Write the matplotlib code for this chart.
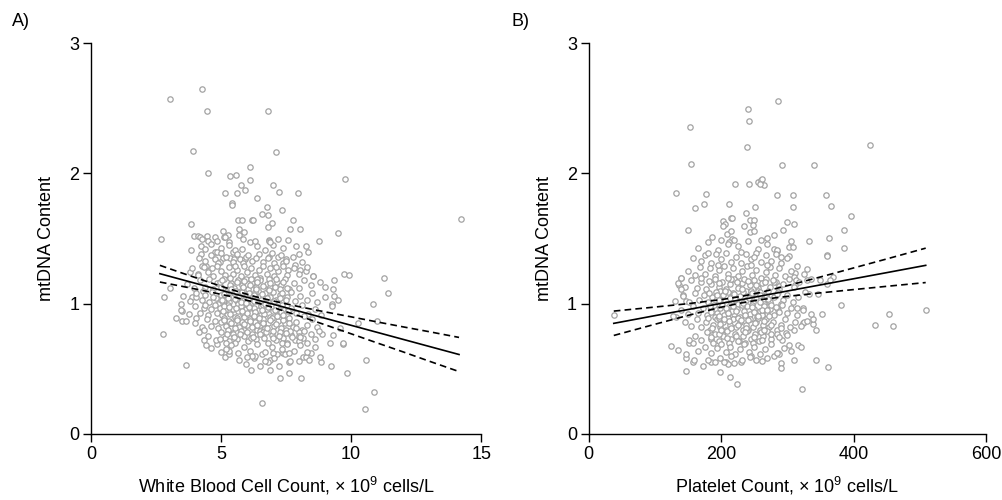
import matplotlib
matplotlib.use("Agg")
import matplotlib.pyplot as plt
import numpy as np

plt.rcParams['font.family'] = ['Liberation Sans', 'DejaVu Sans']
plt.rcParams['mathtext.fontset'] = 'custom'
plt.rcParams['mathtext.rm'] = 'Liberation Sans'

# ---- panel A: white blood cell count vs mtDNA content ----
# outlying points
wbc_outer = [
    (3.04, 2.57), (4.27, 2.65), (4.47, 2.48), (6.82, 2.48), (3.94, 2.17), (7.10, 2.16),
    (4.51, 2.00), (6.10, 2.05), (5.35, 1.98), (5.56, 1.99), (9.76, 1.96), (5.76, 1.91),
    (6.10, 1.95), (5.17, 1.85), (5.63, 1.85), (5.94, 1.87), (6.99, 1.91), (7.21, 1.86),
    (7.97, 1.85), (6.37, 1.81), (5.42, 1.77), (5.42, 1.76), (6.76, 1.74), (6.58, 1.69),
    (6.81, 1.68), (7.33, 1.72), (14.24, 1.65), (3.85, 1.61), (2.68, 1.50), (5.67, 1.64),
    (5.82, 1.64), (6.19, 1.64), (6.24, 1.64), (7.77, 1.64), (6.96, 1.62), (6.82, 1.59),
    (7.67, 1.57), (8.03, 1.57), (9.49, 1.54), (5.06, 1.56), (5.69, 1.57), (5.90, 1.55),
    (5.69, 1.53), (5.86, 1.50), (5.27, 1.53), (5.10, 1.51), (5.14, 1.51), (5.29, 1.47),
    (3.97, 1.52), (4.13, 1.52), (4.20, 1.51), (4.27, 1.50), (4.47, 1.52), (4.76, 1.51),
    (4.49, 1.48), (4.85, 1.48), (6.85, 1.49), (6.86, 1.48), (7.20, 1.50), (7.59, 1.49),
    (8.77, 1.48), (7.90, 1.44), (8.28, 1.44), (8.36, 1.40), (4.24, 1.44), (4.24, 1.38),
    (3.83, 1.41), (4.76, 1.40), (4.85, 1.40), (5.08, 1.35), (4.76, 1.34), (4.97, 1.32),
    (5.46, 1.40), (5.36, 1.35), (5.51, 1.34), (5.74, 1.34), (5.94, 1.34), (5.97, 1.36),
    (6.86, 1.36), (7.20, 1.36), (7.50, 1.34), (7.37, 1.31), (8.00, 1.38), (7.85, 1.30),
    (7.58, 1.26), (8.05, 1.26), (8.28, 1.25), (8.55, 1.21), (9.01, 1.13), (9.33, 1.18),
    (9.32, 1.11), (9.34, 1.06), (9.50, 1.03), (9.27, 1.00), (9.25, 0.98), (9.73, 1.23),
    (9.91, 1.22), (11.26, 1.20), (11.42, 1.08), (10.83, 1.00), (10.99, 0.87), (10.27, 0.85),
    (9.58, 0.81), (10.58, 0.57), (10.88, 0.32), (10.53, 0.19), (6.59, 0.24), (9.83, 0.47),
    (9.22, 0.52), (9.68, 0.69), (9.70, 0.70), (9.30, 0.76), (8.90, 0.77), (9.20, 0.70),
    (3.65, 0.53), (2.78, 0.77), (2.82, 1.05), (3.04, 1.12), (3.28, 0.89), (3.49, 0.87),
    (3.64, 0.87), (3.49, 0.94), (3.47, 1.00), (3.90, 1.05), (4.05, 1.05), (4.04, 0.89),
    (4.17, 0.78), (4.35, 0.72), (4.42, 0.68), (3.81, 1.24), (4.10, 1.23), (4.26, 1.29),
    (4.42, 1.29), (4.86, 0.69), (5.17, 0.59), (5.30, 0.61), (5.30, 0.64), (5.95, 0.54),
    (6.17, 0.49), (6.25, 0.58), (6.32, 0.60), (6.51, 0.52), (6.56, 0.61), (6.89, 0.49),
    (6.88, 0.57), (6.82, 0.55), (7.22, 0.52), (7.26, 0.43), (7.60, 0.55), (7.60, 0.47),
    (7.64, 0.56), (8.06, 0.43), (8.15, 0.59), (8.28, 0.59), (8.44, 0.62), (8.84, 0.55),
    (8.80, 0.59), (7.37, 0.62), (7.45, 0.61),
]
# body of the cloud, estimated band by band
wbc_core = [
    (4.6, 1.46), (5.0, 1.43), (5.3, 1.45), (5.8, 1.42), (6.1, 1.47), (6.4, 1.44), (6.7, 1.41),
    (7.0, 1.45), (7.4, 1.43), (6.3, 1.48), (5.55, 1.41), (4.4, 1.42), (6.9, 1.47),
    (4.4, 1.33), (4.6, 1.37), (4.9, 1.31), (5.2, 1.36), (5.45, 1.32), (5.6, 1.38), (5.85, 1.31),
    (6.05, 1.37), (6.2, 1.33), (6.45, 1.38), (6.6, 1.32), (6.8, 1.35), (7.05, 1.31), (7.3, 1.37),
    (7.5, 1.33), (7.75, 1.36), (8.1, 1.32), (5.0, 1.39), (6.35, 1.35), (6.95, 1.39), (4.15, 1.35),
    (3.9, 1.27), (4.1, 1.22), (4.35, 1.28), (4.5, 1.24), (4.7, 1.21), (4.85, 1.29), (5.0, 1.25),
    (5.15, 1.22), (5.3, 1.28), (5.45, 1.23), (5.6, 1.26), (5.75, 1.21), (5.9, 1.29), (6.0, 1.24),
    (6.15, 1.27), (6.3, 1.22), (6.45, 1.26), (6.6, 1.29), (6.75, 1.23), (6.9, 1.27), (7.05, 1.21),
    (7.2, 1.25), (7.4, 1.29), (7.55, 1.22), (7.8, 1.27), (8.0, 1.23), (8.3, 1.28), (8.55, 1.21),
    (5.55, 1.29), (6.5, 1.20), (4.65, 1.27), (7.1, 1.28),
    (3.7, 1.15), (3.95, 1.12), (4.2, 1.18), (4.4, 1.13), (4.55, 1.19), (4.7, 1.11), (4.85, 1.16),
    (5.0, 1.13), (5.1, 1.19), (5.25, 1.11), (5.4, 1.16), (5.5, 1.12), (5.65, 1.18), (5.8, 1.14),
    (5.95, 1.19), (6.05, 1.11), (6.2, 1.16), (6.35, 1.13), (6.5, 1.18), (6.6, 1.11), (6.75, 1.15),
    (6.85, 1.19), (7.0, 1.12), (7.15, 1.17), (7.3, 1.14), (7.45, 1.19), (7.6, 1.11), (7.8, 1.16),
    (8.0, 1.12), (8.2, 1.18), (8.45, 1.14), (8.8, 1.17), (4.95, 1.17), (5.75, 1.10), (6.4, 1.19),
    (6.9, 1.13), (5.35, 1.14), (6.15, 1.19), (7.25, 1.11), (4.3, 1.10),
    (3.55, 1.06), (3.8, 1.02), (4.05, 1.08), (4.25, 1.03), (4.4, 1.07), (4.55, 1.01), (4.65, 1.09),
    (4.8, 1.04), (4.9, 1.00), (5.0, 1.07), (5.1, 1.03), (5.2, 1.09), (5.3, 1.01), (5.4, 1.05),
    (5.5, 1.08), (5.6, 1.02), (5.7, 1.06), (5.8, 1.09), (5.9, 1.03), (6.0, 1.07), (6.1, 1.00),
    (6.2, 1.05), (6.3, 1.09), (6.4, 1.02), (6.5, 1.06), (6.6, 1.04), (6.7, 1.08), (6.8, 1.01),
    (6.9, 1.05), (7.0, 1.09), (7.1, 1.03), (7.25, 1.07), (7.4, 1.01), (7.55, 1.05), (7.7, 1.09),
    (7.85, 1.02), (8.05, 1.06), (8.3, 1.03), (8.5, 1.08), (8.7, 1.01), (9.0, 1.05), (5.25, 1.05),
    (5.95, 1.05), (6.55, 1.00), (7.2, 1.00), (4.7, 1.05), (6.25, 1.02), (5.65, 1.00),
    (3.45, 0.95), (3.75, 0.92), (4.0, 0.98), (4.2, 0.93), (4.35, 0.97), (4.5, 0.91), (4.6, 0.96),
    (4.75, 0.99), (4.85, 0.93), (4.95, 0.97), (5.05, 0.91), (5.15, 0.95), (5.25, 0.99), (5.35, 0.92),
    (5.45, 0.96), (5.55, 0.90), (5.65, 0.94), (5.75, 0.98), (5.85, 0.92), (5.95, 0.96), (6.05, 0.99),
    (6.15, 0.93), (6.25, 0.97), (6.35, 0.91), (6.45, 0.95), (6.55, 0.98), (6.65, 0.92), (6.75, 0.96),
    (6.9, 0.90), (7.0, 0.94), (7.1, 0.98), (7.25, 0.92), (7.4, 0.96), (7.55, 0.91), (7.7, 0.97),
    (7.9, 0.93), (8.1, 0.99), (8.35, 0.92), (8.6, 0.96), (8.85, 0.91), (5.1, 0.98), (5.9, 0.90),
    (6.6, 0.99), (4.4, 0.99), (7.35, 0.99), (6.0, 0.93),
    (4.0, 0.85), (4.25, 0.82), (4.45, 0.88), (4.6, 0.83), (4.75, 0.87), (4.9, 0.81), (5.0, 0.86),
    (5.1, 0.89), (5.2, 0.83), (5.3, 0.87), (5.4, 0.81), (5.5, 0.85), (5.6, 0.89), (5.7, 0.82),
    (5.8, 0.86), (5.9, 0.80), (6.0, 0.84), (6.1, 0.88), (6.2, 0.82), (6.3, 0.86), (6.4, 0.80),
    (6.5, 0.84), (6.6, 0.88), (6.7, 0.81), (6.8, 0.85), (6.95, 0.89), (7.05, 0.83), (7.2, 0.87),
    (7.3, 0.81), (7.45, 0.85), (7.6, 0.89), (7.75, 0.82), (7.9, 0.86), (8.1, 0.80), (8.3, 0.84),
    (8.5, 0.88), (8.7, 0.82), (4.35, 0.80), (5.25, 0.80), (6.45, 0.89), (7.5, 0.80),
    (4.5, 0.75), (4.8, 0.72), (5.0, 0.78), (5.15, 0.74), (5.3, 0.71), (5.45, 0.77), (5.6, 0.73),
    (5.75, 0.79), (5.9, 0.75), (6.05, 0.71), (6.2, 0.77), (6.35, 0.73), (6.5, 0.79), (6.65, 0.74),
    (6.8, 0.70), (6.95, 0.76), (7.1, 0.72), (7.25, 0.78), (7.4, 0.74), (7.55, 0.70), (7.7, 0.76),
    (7.85, 0.72), (8.0, 0.78), (8.15, 0.74), (8.3, 0.70), (8.45, 0.77), (8.6, 0.73), (8.75, 0.79),
    (7.0, 0.79), (7.65, 0.79), (8.2, 0.79), (6.6, 0.78), (5.2, 0.70), (5.55, 0.70), (6.15, 0.74),
    (7.35, 0.70), (8.0, 0.71), (4.95, 0.73),
    (4.6, 0.66), (5.0, 0.63), (5.4, 0.68), (5.65, 0.62), (5.9, 0.67), (6.1, 0.64), (6.4, 0.69),
    (6.7, 0.63), (6.95, 0.67), (7.15, 0.61), (7.35, 0.65), (7.55, 0.69), (7.8, 0.64), (8.05, 0.68),
    (8.3, 0.63), (8.6, 0.67), (6.2, 0.60), (5.2, 0.65), (7.0, 0.62), (7.6, 0.62),
    (5.7, 0.57), (6.0, 0.59), (6.7, 0.56), (7.05, 0.58), (8.0, 0.56), (8.4, 0.57),
]
# the nearly solid centre of the cloud
wbc_dense = [
    (5.05, 1.185), (5.35, 1.195), (5.62, 1.165), (5.88, 1.175), (6.12, 1.145), (6.38, 1.165),
    (6.62, 1.135), (6.88, 1.155), (7.12, 1.19), (7.38, 1.165),
    (5.12, 1.075), (5.38, 1.115), (5.58, 1.095), (5.83, 1.125), (6.08, 1.085), (6.33, 1.115),
    (6.58, 1.075), (6.83, 1.105), (7.08, 1.125), (7.33, 1.085), (7.52, 1.12),
    (5.03, 1.025), (5.28, 1.045), (5.52, 1.035), (5.78, 1.015), (6.03, 1.035), (6.28, 1.065),
    (6.52, 1.025), (6.78, 1.045), (7.03, 1.02), (7.28, 1.04), (7.48, 1.03),
    (5.08, 0.945), (5.32, 0.975), (5.58, 0.965), (5.82, 0.945), (6.08, 0.975), (6.32, 0.935),
    (6.58, 0.955), (6.82, 0.975), (7.08, 0.955), (7.32, 0.935), (7.58, 0.945),
    (5.12, 0.875), (5.38, 0.855), (5.62, 0.875), (5.88, 0.845), (6.12, 0.865), (6.38, 0.835),
    (6.62, 0.855), (6.88, 0.875), (7.12, 0.845), (7.38, 0.875), (7.62, 0.855),
    (5.22, 0.765), (5.48, 0.745), (5.72, 0.765), (5.98, 0.785), (6.22, 0.745), (6.48, 0.765),
    (6.72, 0.785), (6.98, 0.735), (7.22, 0.755), (7.48, 0.775), (7.72, 0.745), (7.98, 0.755),
    (5.55, 0.815), (6.25, 0.905), (6.75, 0.815), (7.15, 0.905), (5.95, 1.005), (6.7, 0.995),
    (7.4, 0.915), (7.9, 0.815), (8.2, 0.905), (8.05, 0.745),
]
# fitted line with 95% band (A)
fit_a_x = [2.65, 3.5, 4.5, 5.5, 6.3, 7.0, 8.0, 9.0, 10.0, 11.0, 12.0, 13.0, 14.15]
fit_a_y = [1.230, 1.184, 1.130, 1.076, 1.033, 0.996, 0.942, 0.888, 0.834, 0.780, 0.726, 0.672, 0.610]
fit_a_hi = [1.294, 1.235, 1.167, 1.102, 1.055, 1.021, 0.977, 0.937, 0.899, 0.860, 0.822, 0.785, 0.741]
fit_a_lo = [1.166, 1.133, 1.093, 1.050, 1.011, 0.971, 0.906, 0.838, 0.769, 0.699, 0.630, 0.559, 0.479]

# ---- panel B: platelet count vs mtDNA content ----
plt_outer = [
    (285.6, 2.555), (239.8, 2.493), (242.3, 2.404), (238.3, 2.202), (152.2, 2.355), (153.7, 2.069),
    (292.2, 2.061), (340.5, 2.064), (425.2, 2.215), (132.0, 1.852), (176.8, 1.844), (174.8, 1.765),
    (161.2, 1.736), (150.1, 1.565), (220.7, 1.920), (241.8, 1.920), (256.4, 1.931), (259.5, 1.949),
    (261.5, 1.959), (265.0, 1.908), (258.4, 1.918), (284.6, 1.836), (308.3, 1.831), (357.7, 1.831),
    (365.7, 1.752), (307.8, 1.741), (395.5, 1.670), (250.9, 1.741), (236.8, 1.698), (211.1, 1.767),
    (214.6, 1.660), (216.0, 1.661), (299.2, 1.626), (309.3, 1.611), (203.5, 1.634), (206.0, 1.609),
    (202.5, 1.593), (234.3, 1.593), (244.3, 1.642), (249.9, 1.642), (247.4, 1.603), (244.3, 1.552),
    (249.4, 1.557), (293.7, 1.565), (384.9, 1.565), (363.2, 1.501), (333.0, 1.481), (280.1, 1.527),
    (270.0, 1.501), (186.9, 1.511), (209.1, 1.534), (215.6, 1.557), (216.0, 1.50), (219.0, 1.49),
    (212.0, 1.47), (384.9, 1.430), (360.2, 1.376), (359.2, 1.366), (329.5, 1.268), (305.8, 1.483),
    (301.8, 1.437), (308.8, 1.432), (302.8, 1.368), (290.2, 1.360), (280.1, 1.419), (285.1, 1.404),
    (369.3, 1.204), (311.8, 1.238), (309.8, 1.207), (349.1, 1.181), (380.8, 0.990), (351.6, 0.920),
    (453.4, 0.920), (432.2, 0.839), (459.9, 0.826), (509.3, 0.948), (37.8, 0.913), (132.5, 0.900),
    (128.0, 0.905), (124.0, 0.675), (134.5, 0.644), (147.1, 0.480), (146.6, 0.580), (146.6, 0.613),
    (151.7, 0.695), (157.7, 0.695), (151.1, 0.721), (157.7, 0.555), (158.7, 0.568), (172.8, 0.521),
    (185.4, 0.549), (190.4, 0.549), (197.5, 0.478), (213.1, 0.437), (224.2, 0.381), (208.0, 0.555),
    (209.6, 0.537), (219.7, 0.547), (229.7, 0.549), (252.4, 0.567), (290.7, 0.542), (290.7, 0.509),
    (322.4, 0.345), (343.1, 0.567), (361.7, 0.511), (302.8, 0.682), (315.4, 0.682), (297.2, 0.777),
    (309.8, 0.798), (343.1, 0.800), (339.0, 0.844), (338.0, 0.880), (323.4, 0.849), (325.4, 0.862),
    (313.9, 0.969), (323.9, 0.969), (333.0, 1.074), (347.0, 1.074), (329.5, 1.179), (335.5, 1.187),
    (312.9, 1.181), (311.3, 1.143), (282.1, 1.166), (287.6, 1.138), (359.2, 1.148), (363.7, 1.181),
    (140.0, 1.20), (136.0, 1.14), (142.0, 1.07), (147.6, 1.02), (286.0, 0.62), (288.0, 0.61),
    (280.0, 0.60),
]
plt_core = [
    (165, 1.43), (180, 1.47), (195, 1.41), (210, 1.46), (225, 1.44), (240, 1.48), (255, 1.42),
    (270, 1.46), (285, 1.41), (200, 1.49), (230, 1.40), (260, 1.49),
    (170, 1.33), (176, 1.37), (185, 1.31), (192, 1.38), (200, 1.34), (208, 1.39), (215, 1.32),
    (222, 1.36), (230, 1.31), (238, 1.38), (245, 1.34), (252, 1.39), (260, 1.32), (268, 1.37),
    (275, 1.33), (283, 1.38), (290, 1.31), (300, 1.35), (180, 1.39), (250, 1.36), (158, 1.35),
    (150, 1.25), (160, 1.22), (168, 1.28), (176, 1.23), (183, 1.27), (190, 1.21), (197, 1.26),
    (204, 1.29), (211, 1.23), (218, 1.27), (225, 1.21), (232, 1.25), (239, 1.29), (246, 1.22),
    (253, 1.26), (260, 1.20), (267, 1.24), (274, 1.28), (281, 1.22), (288, 1.27), (296, 1.21),
    (305, 1.25), (315, 1.29), (325, 1.23), (195, 1.30), (245, 1.30), (270, 1.30), (140, 1.20),
    (135, 1.16), (145, 1.13), (155, 1.18), (163, 1.12), (170, 1.17), (177, 1.11), (184, 1.15),
    (190, 1.19), (196, 1.13), (202, 1.17), (208, 1.11), (214, 1.15), (220, 1.19), (226, 1.12),
    (232, 1.16), (238, 1.10), (244, 1.14), (250, 1.18), (256, 1.12), (262, 1.16), (268, 1.19),
    (274, 1.13), (280, 1.17), (287, 1.11), (294, 1.15), (302, 1.19), (310, 1.13), (318, 1.17),
    (215, 1.19), (235, 1.19), (255, 1.10), (198, 1.10), (170, 1.20), (140, 1.11),
    (130, 1.02), (142, 1.06), (152, 1.01), (160, 1.08), (167, 1.03), (174, 1.07), (180, 1.01),
    (186, 1.05), (192, 1.09), (198, 1.03), (203, 1.07), (208, 1.00), (213, 1.04), (218, 1.08),
    (223, 1.02), (228, 1.06), (233, 1.09), (238, 1.03), (243, 1.07), (248, 1.01), (253, 1.05),
    (258, 1.09), (263, 1.03), (268, 1.07), (274, 1.01), (280, 1.05), (286, 1.09), (293, 1.03),
    (300, 1.07), (308, 1.01), (316, 1.05), (326, 1.09), (195, 1.00), (225, 1.00), (265, 1.00),
    (210, 1.09), (245, 1.10), (290, 1.00),
    (140, 0.95), (150, 0.92), (158, 0.98), (165, 0.93), (172, 0.97), (178, 0.91), (184, 0.95),
    (189, 0.99), (194, 0.93), (199, 0.97), (204, 0.91), (209, 0.95), (214, 0.99), (219, 0.92),
    (224, 0.96), (229, 0.90), (234, 0.94), (239, 0.98), (244, 0.92), (249, 0.96), (254, 0.90),
    (259, 0.94), (264, 0.98), (269, 0.92), (274, 0.96), (280, 0.91), (286, 0.95), (292, 0.99),
    (299, 0.93), (306, 0.97), (314, 0.91), (323, 0.95), (335, 0.92), (202, 0.99), (232, 0.99),
    (262, 0.91), (190, 0.90), (216, 0.94), (246, 0.99), (276, 0.99),
    (145, 0.86), (155, 0.83), (163, 0.88), (170, 0.82), (177, 0.86), (183, 0.80), (188, 0.84),
    (193, 0.88), (198, 0.82), (203, 0.86), (208, 0.80), (213, 0.84), (218, 0.88), (223, 0.82),
    (228, 0.86), (233, 0.80), (238, 0.84), (243, 0.88), (248, 0.82), (253, 0.86), (258, 0.80),
    (263, 0.84), (268, 0.88), (273, 0.82), (279, 0.86), (285, 0.80), (291, 0.84), (297, 0.88),
    (304, 0.82), (312, 0.86), (320, 0.83), (330, 0.87), (211, 0.89), (241, 0.80), (226, 0.89),
    (256, 0.89), (196, 0.89), (180, 0.89),
    (160, 0.75), (170, 0.72), (178, 0.78), (185, 0.73), (191, 0.77), (197, 0.71), (203, 0.75),
    (209, 0.79), (215, 0.73), (221, 0.77), (227, 0.71), (233, 0.75), (239, 0.79), (245, 0.73),
    (251, 0.77), (257, 0.71), (263, 0.75), (269, 0.79), (276, 0.73), (284, 0.77), (292, 0.72),
    (300, 0.76), (212, 0.70), (236, 0.70), (260, 0.78), (188, 0.70), (248, 0.70),
    (165, 0.64), (175, 0.67), (185, 0.62), (193, 0.66), (200, 0.69), (207, 0.63), (214, 0.67),
    (221, 0.61), (228, 0.65), (235, 0.69), (242, 0.63), (250, 0.67), (258, 0.61), (266, 0.65),
    (275, 0.69), (285, 0.62), (295, 0.66), (305, 0.64), (320, 0.67), (215, 0.60), (245, 0.60),
    (180, 0.57), (198, 0.58), (205, 0.55), (232, 0.57), (243, 0.59), (262, 0.56), (270, 0.58),
    (310, 0.57),
]
plt_dense = [
    (182, 1.175), (196, 1.155), (211, 1.195), (224, 1.165), (241, 1.175), (253, 1.145),
    (266, 1.165), (279, 1.185),
    (181, 1.085), (194, 1.065), (206, 1.095), (219, 1.075), (231, 1.115), (246, 1.085),
    (259, 1.065), (271, 1.095), (284, 1.075),
    (183, 0.985), (196, 1.025), (208, 0.965), (221, 1.035), (233, 1.005), (246, 0.975),
    (258, 1.015), (271, 1.035), (283, 0.975),
    (185, 0.935), (197, 0.905), (210, 0.925), (222, 0.945), (236, 0.915), (249, 0.935),
    (261, 0.955), (273, 0.905), (287, 0.935),
    (186, 0.815), (199, 0.845), (212, 0.865), (226, 0.835), (238, 0.815), (251, 0.855),
    (264, 0.865), (276, 0.835), (290, 0.815),
    (184, 0.745), (196, 0.765), (209, 0.735), (222, 0.755), (236, 0.785), (249, 0.745),
    (262, 0.725), (275, 0.765), (288, 0.745),
    (205, 0.885), (230, 0.875), (255, 0.905), (218, 0.985), (242, 1.045), (265, 0.795),
    (200, 0.795), (225, 0.715), (270, 0.955), (240, 0.875), (215, 0.815),
]
fit_b_x = [37.8, 100, 150, 200, 231, 260, 300, 350, 400, 450, 509]
fit_b_y = [0.849, 0.908, 0.955, 1.002, 1.031, 1.059, 1.097, 1.144, 1.191, 1.238, 1.294]
fit_b_hi = [0.943, 0.974, 1.000, 1.031, 1.056, 1.087, 1.138, 1.205, 1.274, 1.343, 1.426]
fit_b_lo = [0.756, 0.842, 0.910, 0.973, 1.006, 1.031, 1.056, 1.083, 1.108, 1.133, 1.162]

ylab = 'mtDNA Content'
xlab_a = 'White Blood Cell Count, × 10$^9$ cells/L'
xlab_b = 'Platelet Count, × 10$^9$ cells/L'

fig = plt.figure(figsize=(10.03, 5.0), dpi=100)
ax1 = fig.add_axes([0.0907, 0.132, 0.389, 0.782])
ax2 = fig.add_axes([0.587, 0.132, 0.396, 0.782])

panels = [
    (ax1, wbc_outer + wbc_core + wbc_dense, fit_a_x, fit_a_y, fit_a_hi, fit_a_lo,
     (0, 15), [0, 5, 10, 15], xlab_a),
    (ax2, plt_outer + plt_core + plt_dense, fit_b_x, fit_b_y, fit_b_hi, fit_b_lo,
     (0, 600), [0, 200, 400, 600], xlab_b),
]

for ax, pts, fx, fy, fhi, flo, xlim, xticks, xlab in panels:
    pts = np.array(pts)
    ax.scatter(pts[:, 0], pts[:, 1], s=15, facecolors='white', edgecolors='#a3a3a3',
               linewidths=0.9, zorder=2)
    ax.plot(fx, fy, color='black', lw=1.2, zorder=3)
    ax.plot(fx, fhi, color='black', lw=1.2, ls=(0, (4, 2.5)), zorder=3)
    ax.plot(fx, flo, color='black', lw=1.2, ls=(0, (4, 2.5)), zorder=3)
    ax.set_xlim(*xlim)
    ax.set_ylim(0, 3)
    ax.set_xticks(xticks)
    ax.set_yticks([0, 1, 2, 3])
    ax.spines['top'].set_visible(False)
    ax.spines['right'].set_visible(False)
    for s in ['left', 'bottom']:
        ax.spines[s].set_linewidth(1.0)
    ax.tick_params(direction='out', length=5.5, width=1.0, labelsize=13, pad=3)
    ax.set_xlabel(xlab, fontsize=13, labelpad=9)
    ax.set_ylabel(ylab, fontsize=13, labelpad=10)

fig.text(0.012, 0.958, 'A)', fontsize=13, ha='left', va='center')
fig.text(0.510, 0.958, 'B)', fontsize=13, ha='left', va='center')

fig.savefig('out.png', dpi=100)
